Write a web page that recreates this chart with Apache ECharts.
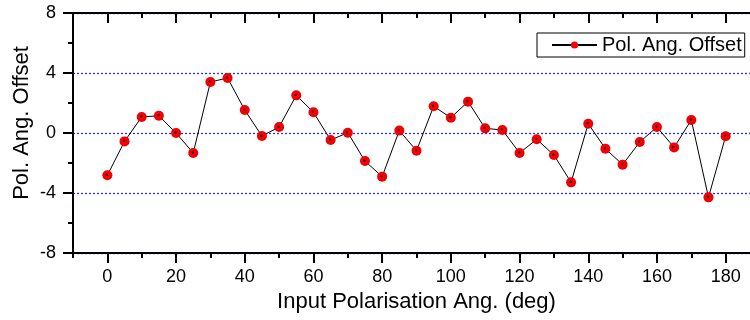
<!DOCTYPE html>
<html>
<head>
<meta charset="utf-8">
<script src="https://cdn.jsdelivr.net/npm/echarts@6/dist/echarts.min.js"></script>
<style>html,body{margin:0;padding:0;background:#fff;}#c{width:750px;height:320px;}</style>
</head>
<body>
<div id="c"></div>
<script>
var angles = [0,5,10,15,20,25,30,35,40,45,50,55,60,65,70,75,80,85,90,95,100,105,110,115,120,125,130,135,140,145,150,155,160,165,170,175,180];
var offsets = [-2.82,-0.56,1.07,1.15,0.0,-1.33,3.40,3.67,1.53,-0.20,0.40,2.51,1.38,-0.47,0.02,-1.87,-2.91,0.16,-1.18,1.78,1.02,2.09,0.31,0.20,-1.33,-0.42,-1.47,-3.29,0.62,-1.05,-2.11,-0.60,0.40,-0.96,0.87,-4.29,-0.22];
var xMajorTicks = [0,20,40,60,80,100,120,140,160,180];
var xMinorTicks = [-10,10,30,50,70,90,110,130,150,170,190];
var seriesName = 'Pol. Ang. Offset';
var xTitle = 'Input Polarisation Ang. (deg)';
var yTitle = 'Pol. Ang. Offset';

var FONT = '"Liberation Sans", Arial, sans-serif';
var chart = echarts.init(document.getElementById('c'), null, {renderer: 'canvas'});
var points = angles.map(function (a, i) { return [a, offsets[i]]; });
var sphere = {type: 'radial', x: 0.45, y: 0.45, r: 0.55, colorStops: [
  {offset: 0, color: '#200000'}, {offset: 0.18, color: '#500000'},
  {offset: 0.3, color: '#ff0000'}, {offset: 1, color: '#e80000'}]};
var axisLineStyle = {color: '#000', width: 2};
function xAx(pos, ticks, len, inside, showLine, extra) {
  var o = {
    type: 'value', gridIndex: 0, position: pos, min: -10, max: 190,
    axisLine: {show: showLine, onZero: false, lineStyle: axisLineStyle},
    axisTick: {show: true, customValues: ticks, length: len, inside: inside, lineStyle: axisLineStyle},
    axisLabel: {show: false},
    splitLine: {show: false}
  };
  return Object.assign(o, extra || {});
}
chart.setOption({
  animation: false,
  backgroundColor: '#fff',
  grid: {left: 73, top: 13, width: 687, height: 240, containLabel: false, outerBoundsMode: 'none'},
  xAxis: [
    xAx('bottom', xMajorTicks, 10, false, true, {
      axisLabel: {show: true, customValues: xMajorTicks, fontSize: 18, fontFamily: FONT, color: '#000', margin: 15},
      name: xTitle, nameLocation: 'middle', nameGap: 38,
      nameTextStyle: {fontSize: 22, fontFamily: FONT, color: '#000'}
    }),
    xAx('bottom', xMinorTicks, 5, false, false),
    xAx('top', xMajorTicks, 10, true, true),
    xAx('top', xMinorTicks, 5, true, false)
  ],
  yAxis: [{
    type: 'value', min: -8, max: 8, interval: 4, position: 'left',
    axisLine: {show: true, onZero: false, lineStyle: axisLineStyle},
    axisTick: {show: true, length: 10, inside: false, lineStyle: axisLineStyle},
    minorTick: {show: true, splitNumber: 2, length: 5, lineStyle: axisLineStyle},
    axisLabel: {fontSize: 18, fontFamily: FONT, color: '#000', margin: 17},
    splitLine: {show: true, lineStyle: {color: '#2a2aff', width: 1.3, type: [2, 2], opacity: 1}}
  }],
  legend: {
    show: true, left: 537, top: 33, orient: 'horizontal',
    padding: [2, 3, 2, 14], borderColor: '#000', borderWidth: 1, borderRadius: 0,
    itemWidth: 45, itemHeight: 9, itemGap: 5,
    textStyle: {fontSize: 20, fontFamily: FONT, color: '#000'},
    data: [{name: seriesName, itemStyle: {color: '#ff0000'}}]
  },
  graphic: [{
    type: 'text', x: 22, y: 123, rotation: Math.PI / 2,
    style: {text: yTitle, fontSize: 22, fontFamily: FONT, fill: '#000', align: 'center', verticalAlign: 'middle'}
  }],
  series: [{
    name: seriesName, type: 'line', xAxisIndex: 0, yAxisIndex: 0,
    data: points, symbol: 'circle', symbolSize: 10, showAllSymbol: true,
    lineStyle: {color: '#000', width: 1},
    itemStyle: {color: sphere, borderWidth: 0},
    z: 5
  }]
});
</script>
</body>
</html>
